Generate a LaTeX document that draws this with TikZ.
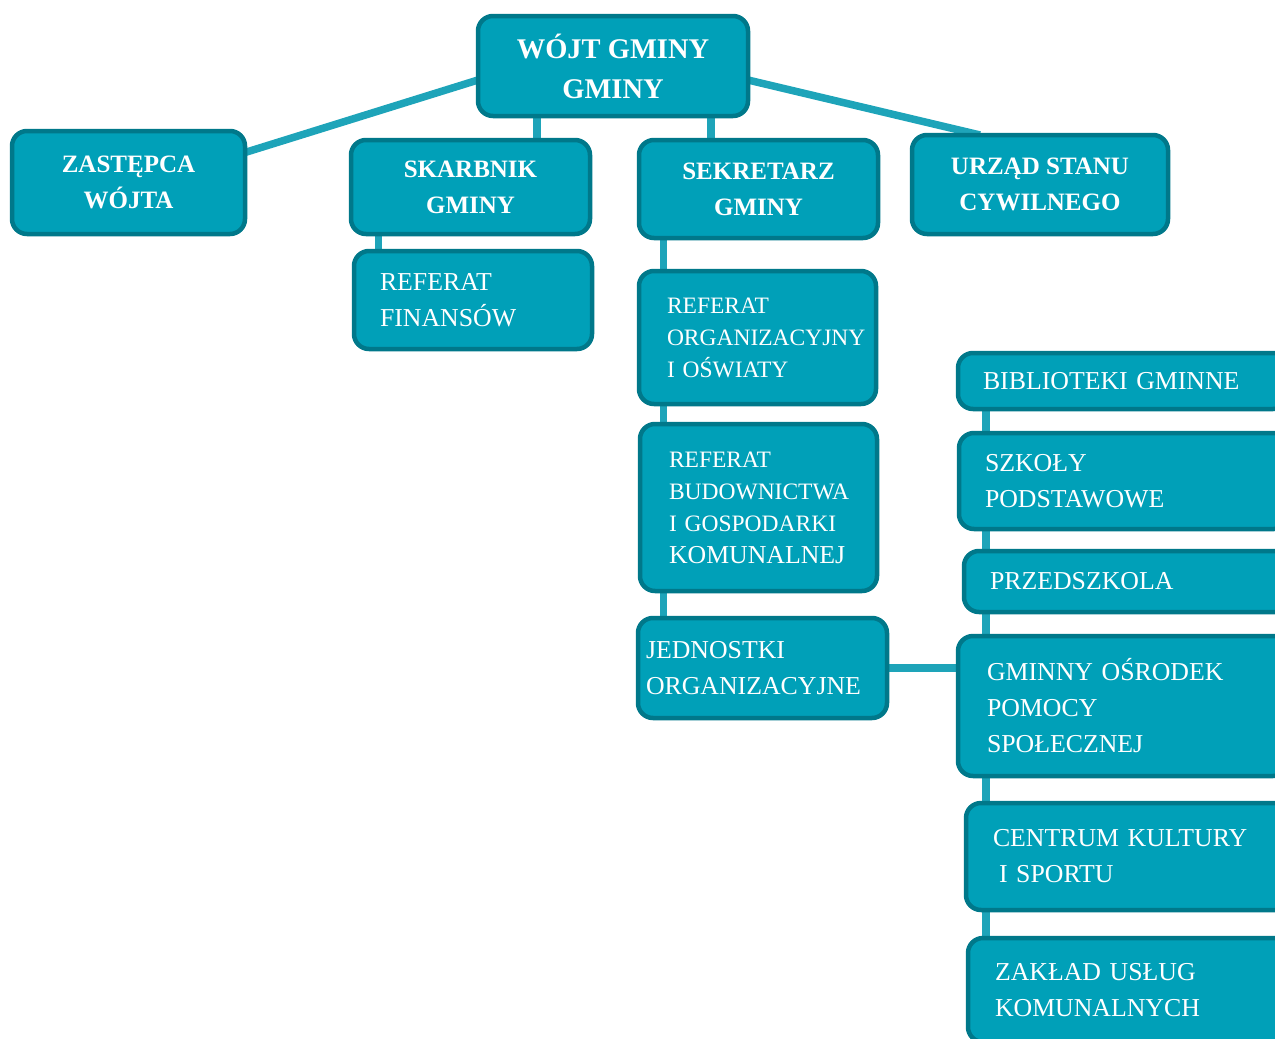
\documentclass[tikz,border=0pt]{standalone}
\usepackage{fontspec}
\setmainfont{Liberation Serif}
\usetikzlibrary{backgrounds}
\definecolor{boxfill}{RGB}{0,160,184}
\definecolor{boxline}{RGB}{0,120,138}
\definecolor{linkcol}{RGB}{30,164,185}
\def\topfont{\bfseries\fontsize{28.5}{40}\selectfont}
\def\headfont{\bfseries\fontsize{25}{36}\selectfont}
\def\bodyfont{\fontsize{25.8}{36}\selectfont}
\def\smallfont{\fontsize{23.5}{32}\selectfont}
\tikzset{
  box/.style={draw=boxline, fill=boxfill, line width=4.5pt, rounded corners=15pt,
    text=white, anchor=north west, outer sep=0pt, inner ysep=0pt},
  head/.style 2 args={box, font=\headfont, align=center, minimum width=#1, minimum height=#2},
  unit/.style n args={3}{box, font=\bodyfont, align=left, inner xsep=#1, text width=#2, minimum height=#3},
  link/.style={draw=linkcol, line width=7.5pt},
}

\begin{document}
\begin{tikzpicture}[x=1pt,y=-1pt]
\useasboundingbox (0,0) rectangle (1275,1039);
\clip (0,0) rectangle (1275,1039);
% top row
\node[head={270}{100}, font=\topfont] (wojt) at (478,16) {WÓJT GMINY\\GMINY};
\node[head={233}{103}] (zastepca) at (12,131) {ZASTĘPCA\\WÓJTA};
\node[head={239}{94}] (skarbnik) at (351,140) {SKARBNIK\\GMINY};
\node[head={239}{98}] (sekretarz) at (639,140) {SEKRETARZ\\GMINY};
\node[head={256}{99}] (usc) at (912,135) {URZĄD STANU\\CYWILNEGO};
% referaty
\node[unit={26pt}{186pt}{98}] (reffin) at (354,251) {REFERAT\\FINANSÓW};
\node[unit={28pt}{181pt}{133}, font=\smallfont] (reforg) at (639,271) {REFERAT\\ORGANIZACYJNY\\I OŚWIATY};
\node[unit={29pt}{179pt}{167}, font=\smallfont] (refbud) at (640,424)
  {REFERAT\\BUDOWNICTWA\\I GOSPODARKI\\{\bodyfont KOMUNALNEJ}};
\node[unit={8pt}{233pt}{100}] (jedn) at (638,618) {JEDNOSTKI\\ORGANIZACYJNE};
% jednostki organizacyjne
\node[unit={25pt}{280pt}{56}] (bibl) at (958,353) {BIBLIOTEKI GMINNE};
\node[unit={26pt}{278pt}{96}] (szkoly) at (959,433) {SZKOŁY\\PODSTAWOWE};
\node[unit={26pt}{278pt}{61}] (przed) at (964,551) {PRZEDSZKOLA};
\node[unit={29pt}{272pt}{140}] (gops) at (958,636) {GMINNY OŚRODEK\\POMOCY\\SPOŁECZNEJ};
\node[unit={27pt}{276pt}{107}] (centrum) at (966,803) {CENTRUM KULTURY\\\hspace*{6pt}I SPORTU};
\node[unit={27pt}{276pt}{104}] (zaklad) at (968,938) {ZAKŁAD USŁUG\\KOMUNALNYCH};
\begin{pgfonlayer}{background}
  \draw[link] ([yshift=-14pt]wojt.west) -- ([yshift=30pt]zastepca.east);
  \draw[link] ([yshift=-14pt]wojt.east) -- ([xshift=-60pt]usc.north);
  \draw[link] ([xshift=-76pt]wojt.south) -- ([xshift=-76pt]wojt.south |- skarbnik.north);
  \draw[link] ([xshift=98pt]wojt.south) -- ([xshift=98pt]wojt.south |- sekretarz.north);
  \draw[link] ([xshift=-92pt]skarbnik.south) -- ([xshift=-92pt]skarbnik.south |- reffin.north);
  \draw[link] ([xshift=-95pt]sekretarz.south) -- ([xshift=-95pt]sekretarz.south |- jedn.north);
  \draw[link] (jedn.east) -- (jedn.east -| gops.west);
  \draw[link] ([xshift=28pt]bibl.south west) -- ([xshift=28pt]bibl.south west |- zaklad.north);
\end{pgfonlayer}
\end{tikzpicture}
\end{document}
